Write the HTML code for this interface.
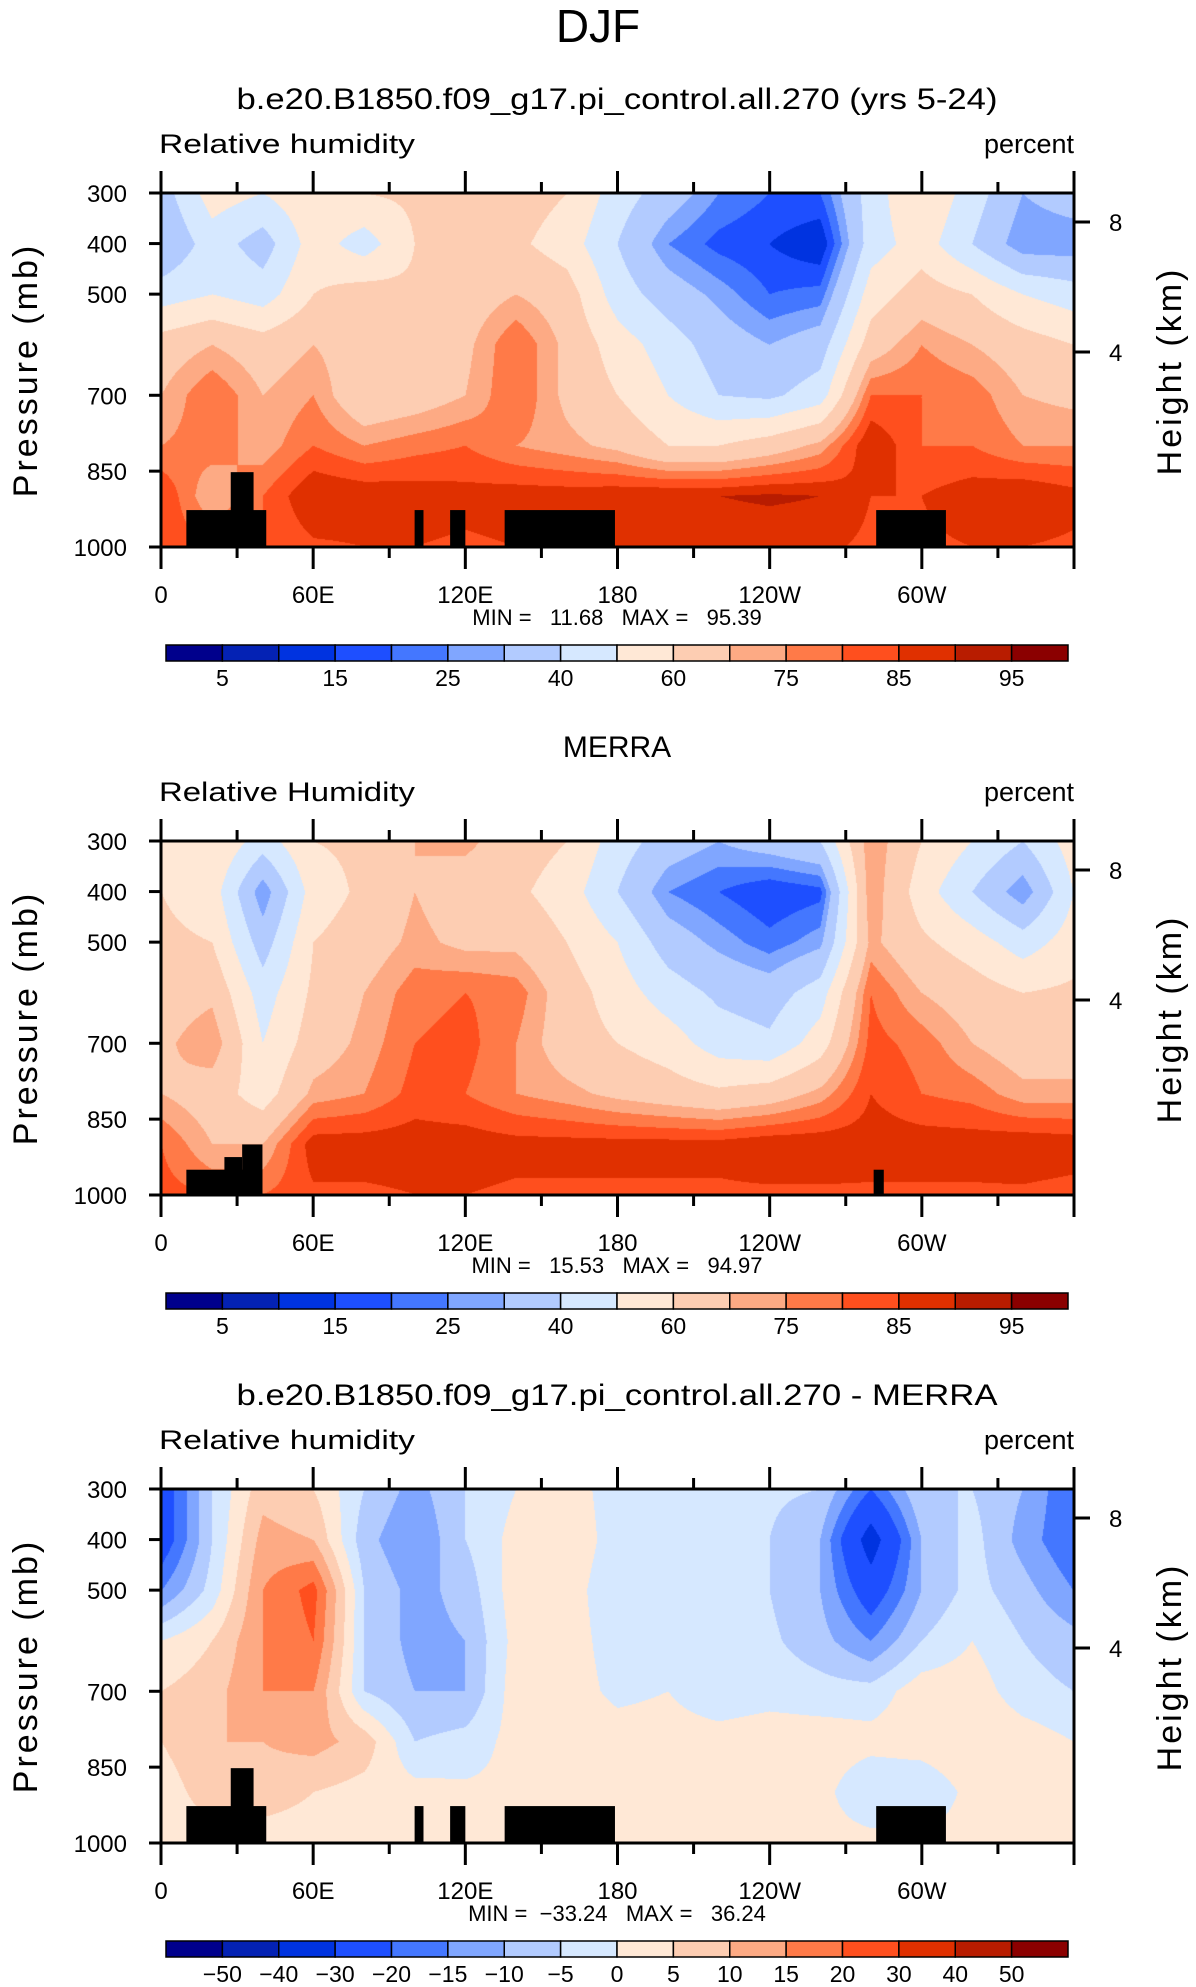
<!DOCTYPE html>
<html><head><meta charset="utf-8"><style>
html,body{margin:0;padding:0;background:#fff;width:1196px;height:1987px;overflow:hidden}
#wrap{position:relative;width:1196px;height:1987px}
canvas{position:absolute;left:161px}
svg{position:absolute;left:0;top:0}
text{font-family:"Liberation Sans",sans-serif;fill:#000}
</style></head><body>
<div id="wrap">
<canvas id="c0" width="913" height="354" style="top:193px"></canvas>
<canvas id="c1" width="913" height="354" style="top:841px"></canvas>
<canvas id="c2" width="913" height="354" style="top:1489px"></canvas>
<svg id="s" width="1196" height="1987"></svg>
</div>
<script>
const lons=[0,20,40,60,80,100,120,140,160,180,200,220,240,260,280,300,320,340,360];
const levels=[300,400,500,600,700,800,900,1000];
const modelRH=[
[35,55,50,58,60,62,65,65,60,45,35,25,20,20,45,60,45,30,35],
[30,45,35,55,45,60,65,62,55,40,25,18,15,10,45,55,40,25,25],
[45,50,45,60,65,62,65,70,65,45,35,28,20,22,55,65,60,50,45],
[65,70,65,70,65,65,68,80,68,55,45,35,30,35,65,75,70,65,60],
[70,80,70,75,62,65,70,80,68,60,50,40,38,45,80,80,78,70,68],
[75,78,72,80,75,78,80,75,72,68,60,60,65,72,90,80,80,75,75],
[85,70,80,90,89,88,87,88,88,89,90,90,91,90,85,85,88,90,87],
[84,80,80,84,85,85,84,85,86,86,86,86,86,86,84,84,85,85,84]];
const merraRH=[
[55,60,45,60,62,70,72,65,60,45,35,30,35,40,75,60,50,40,55],
[60,55,25,55,62,70,65,62,55,40,25,20,15,18,75,55,40,25,50],
[62,60,35,60,65,72,68,68,60,50,35,28,22,28,72,62,55,45,55],
[65,68,45,62,70,78,80,78,65,55,45,38,35,45,80,70,65,60,62],
[68,75,50,65,72,80,82,75,65,60,55,45,42,55,82,78,70,65,65],
[70,65,55,72,75,82,80,75,72,68,65,62,65,72,85,80,78,72,72],
[80,70,70,88,88,88,88,87,87,87,87,87,89,89,88,88,88,89,88],
[82,80,80,84,84,85,85,84,84,84,84,84,84,84,84,84,84,84,83]];
const diffRH=[
[-25,-5,8,5,-5,-12,-5,0,2,-2,-3,-3,-4,-5,-20,-5,-5,-10,-20],
[-25,-5,12,10,-8,-15,-5,2,3,-2,-2,-3,-5,-10,-35,-10,-3,-12,-20],
[-15,-3,15,22,-5,-12,-8,3,2,-3,-2,-2,-5,-10,-25,-10,-3,-8,-15],
[0,5,15,20,-5,-12,-10,2,2,-2,-1,-2,-4,-8,-15,-5,0,-5,-8],
[5,8,15,15,-5,-10,-10,3,2,-1,0,-3,-2,-3,-3,3,3,-3,-5],
[5,10,10,12,8,-5,-3,2,3,2,2,2,3,3,2,3,5,3,0],
[2,8,8,5,3,2,1,1,2,3,3,4,3,2,-5,-5,2,3,2],
[2,2,2,2,2,2,2,2,2,2,2,2,2,2,2,2,2,2,2]];
const rhBounds=[5,10,15,20,25,30,40,50,60,70,75,80,85,90,95];
const rhLabels=["5","","15","","25","","40","","60","","75","","85","","95"];
const diffBounds=[-50,-40,-30,-20,-15,-10,-5,0,5,10,15,20,30,40,50];
const diffLabels=["−50","−40","−30","−20","−15","−10","−5","0","5","10","15","20","30","40","50"];
const palette=["#00008c","#0422b4","#0033e0","#1e4fff","#4477ff","#80a6ff","#b2cbff","#d6e8ff","#ffe8d6","#fdcdb2","#fdaa84","#ff7a48","#ff4f1e","#e03000","#b81c00","#8b0000"];
const landModel=[[10,41.5,927],[27.5,36.5,852],[100,103.5,927],[114,120,927],[135.5,179,927],[282,309.5,927]];
const landMerra=[[10,40,950],[25,32,925],[32,40,900],[281,285,950]];
const titles=["b.e20.B1850.f09_g17.pi_control.all.270 (yrs 5-24)","MERRA","b.e20.B1850.f09_g17.pi_control.all.270 - MERRA"];
const minmax=["MIN =   11.68   MAX =   95.39","MIN =   15.53   MAX =   94.97","MIN =  −33.24   MAX =   36.24"];
const topLeft=["Relative humidity","Relative Humidity","Relative humidity"];
const lonTicks=[0,60,120,180,240,300,360];
const lonTickLabels=["0","60E","120E","180","120W","60W",""];
const pTicks=[300,400,500,700,850,1000];
const hTicks=[[8,222-193],[4,352-193]];

const X0=161,W=913,H=354,tops=[193,841,1489];
const xs=l=>X0+l/360*W;
const ys=(p,top)=>top+(p-300)/700*H;

function interp(g,lon,p){
  let i=Math.min(17,Math.floor(lon/20)),fx=(lon-lons[i])/20;
  let j=Math.min(6,Math.floor((p-300)/100)),fy=(p-levels[j])/100;
  const a=g[j][i],b=g[j][i+1],c=g[j+1][i],d=g[j+1][i+1];
  return (a*(1-fx)+b*fx)*(1-fy)+(c*(1-fx)+d*fx)*fy;
}
function rgb(h){return [parseInt(h.slice(1,3),16),parseInt(h.slice(3,5),16),parseInt(h.slice(5,7),16)];}
const pal=palette.map(rgb);
function drawField(id,g,bounds){
  const cv=document.getElementById(id),ctx=cv.getContext('2d');
  const im=ctx.createImageData(W,H);
  for(let y=0;y<H;y++){const p=300+y/(H-1)*700;
    for(let x=0;x<W;x++){const v=interp(g,x/(W-1)*360,p);
      let k=0;while(k<bounds.length&&v>=bounds[k])k++;
      const c=pal[k],o=(y*W+x)*4;im.data[o]=c[0];im.data[o+1]=c[1];im.data[o+2]=c[2];im.data[o+3]=255;}}
  ctx.putImageData(im,0,0);
}
drawField('c0',modelRH,rhBounds);
drawField('c1',merraRH,rhBounds);
drawField('c2',diffRH,diffBounds);

const svg=document.getElementById('s'),NS="http://www.w3.org/2000/svg";
function el(t,a,txt){const e=document.createElementNS(NS,t);for(const k in a)e.setAttribute(k,a[k]);if(txt!==undefined)e.textContent=txt;svg.appendChild(e);return e;}
let t=el('text',{x:598,y:42,'font-size':46,'text-anchor':'middle','font-weight':'100'},'DJF');



const lands=[landModel,landMerra,landModel];
const cbB=[rhBounds,rhBounds,diffBounds],cbL=[rhLabels,rhLabels,diffLabels];
const cbY=[645,1293,1941];
for(let k=0;k<3;k++){
  const top=tops[k];
  const tl=titles[k];
  let e=el('text',{x:617,y:top-84,'font-size':30,'text-anchor':'middle'},tl);
  if(k!=1){e.setAttribute('textLength',761);e.setAttribute('lengthAdjust','spacingAndGlyphs');}
  
  
  e=el('text',{x:159,y:top-40,'font-size':27,textLength:256,lengthAdjust:'spacingAndGlyphs'},topLeft[k]);
  
  
  e=el('text',{x:1074,y:top-40,'font-size':27,'text-anchor':'end'},'percent');
  
  
  for(const r of lands[k]){
    e=el('rect',{x:xs(r[0]),y:ys(r[2],top),width:xs(r[1])-xs(r[0]),height:ys(1000,top)-ys(r[2],top),fill:'#000'});
    
    
  }
  e=el('rect',{x:X0,y:top,width:W,height:H,fill:'none',stroke:'#000','stroke-width':3});
  
  
  for(let l=0;l<=360;l+=30){
    const maj=l%60==0,len=maj?22:11;
    el('line',{x1:xs(l),x2:xs(l),y1:top,y2:top-len,stroke:'#000','stroke-width':3});
    el('line',{x1:xs(l),x2:xs(l),y1:top+H,y2:top+H+len,stroke:'#000','stroke-width':3});
  }
  lonTicks.forEach((l,i)=>{
    e=el('text',{x:xs(l),y:top+H+56,'font-size':24,'text-anchor':'middle'},lonTickLabels[i]);
    
    
  });
  pTicks.forEach(p=>{
    el('line',{x1:X0,x2:X0-12,y1:ys(p,top),y2:ys(p,top),stroke:'#000','stroke-width':3});
    e=el('text',{x:127,y:ys(p,top)+9,'font-size':24,'text-anchor':'end'},String(p));
    
    
  });
  hTicks.forEach(h=>{
    el('line',{x1:X0+W,x2:X0+W+16,y1:top+h[1],y2:top+h[1],stroke:'#000','stroke-width':3});
    e=el('text',{x:1109,y:top+h[1]+9,'font-size':24},String(h[0]));
    
    
  });
  e=el('text',{x:0,y:0,'font-size':34,'text-anchor':'middle',transform:`translate(37,${top+177}) rotate(-90)`,'letter-spacing':'3'},'Pressure (mb)');
  
  
  e=el('text',{x:0,y:0,'font-size':34,'text-anchor':'middle',transform:`translate(1181,${top+178}) rotate(-90)`,'letter-spacing':'3'},'Height (km)');
  
  
  e=el('text',{x:617,y:top+H+78,'font-size':22,'text-anchor':'middle','xml:space':'preserve'},minmax[k]);
  e.setAttribute('style','white-space:pre');
  
  
  const cx0=166,cw=902,bw=cw/16,cy=cbY[k];
  for(let i=0;i<16;i++){
    e=el('rect',{x:cx0+i*bw,y:cy,width:bw,height:16,fill:palette[i],stroke:'#000','stroke-width':1.5});
    
    
  }
  cbB[k].forEach((b,i)=>{
    e=el('text',{x:cx0+(i+1)*bw,y:cy+41,'font-size':23,'text-anchor':'middle'},cbL[k][i]);
    
    
  });
}
</script>
</body></html>
